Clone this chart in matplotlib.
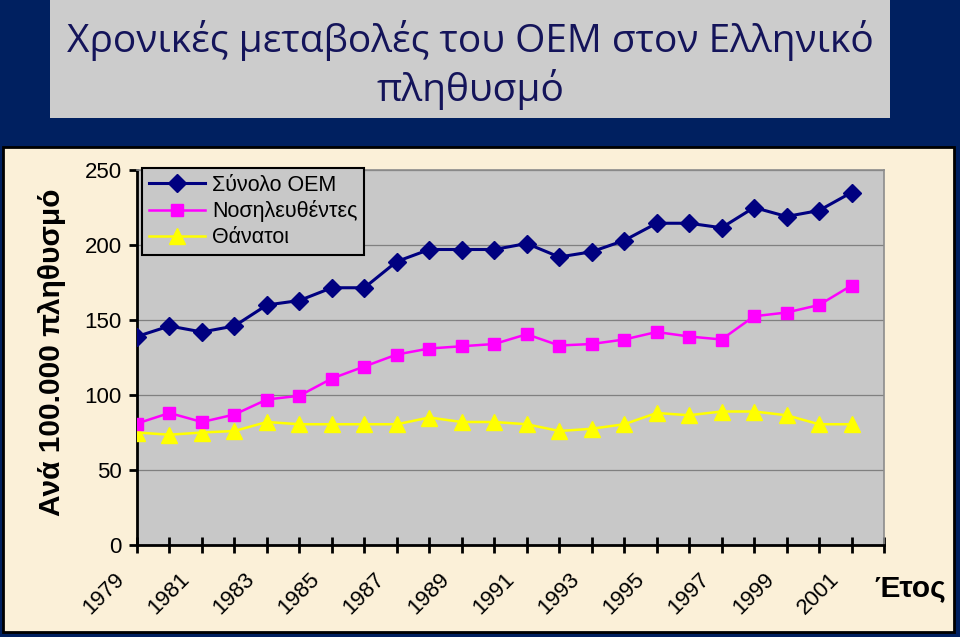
import matplotlib
matplotlib.use("Agg")
import matplotlib.pyplot as plt
from matplotlib.patches import Rectangle
from matplotlib.transforms import ScaledTranslation

# data
years = list(range(1979, 2002))
total_oem = [139, 146, 142, 146, 160, 163, 171.5, 171.5, 189, 197, 197, 197,
             201, 192, 195.5, 203, 214.5, 214.5, 211.5, 225, 219, 223, 235]
hospitalised = [81, 88, 82, 87, 97, 99.5, 111, 119, 127, 131, 132.5, 134,
                140.5, 133, 134, 137, 142, 139, 137, 152.5, 155, 160, 173]
deaths = [75, 73.5, 75, 76, 82, 80.5, 80.5, 80.5, 80.5, 85, 82, 82,
          80.5, 76, 77.5, 80.5, 88, 86.5, 89, 89, 86.5, 80.5, 80.5]

series_names = ["Σύνολο ΟΕΜ", "Νοσηλευθέντες", "Θάνατοι"]
title_text = "Χρονικές μεταβολές του ΟΕΜ στον Ελληνικό\nπληθυσμό"
y_label = "Ανά 100.000 πληθυσμό"
x_label = "Έτος"

W, H = 960, 637
navy_bg = "#002060"
parchment = "#fbf0d8"
plot_grey = "#c8c8c8"

plt.rcParams["font.family"] = ["Liberation Sans", "DejaVu Sans"]

fig = plt.figure(figsize=(W / 100, H / 100), dpi=100, facecolor=navy_bg)

# title box and parchment panel (figure pixel layout), behind the axes
fig.patches.append(Rectangle((50 / W, 1 - 118 / H), 840 / W, 118 / H,
                             transform=fig.transFigure, facecolor="#cccccc",
                             edgecolor="none", zorder=-2))
fig.patches.append(Rectangle((3 / W, 1 - 632 / H), 951 / W, 485 / H,
                             transform=fig.transFigure, facecolor=parchment,
                             edgecolor="black", linewidth=2, zorder=-2))

fig.text(470 / W, 1 - 65 / H, title_text, ha="center", va="center",
         fontsize=28, color="#14145a", family=["Open Sans", "DejaVu Sans"],
         linespacing=1.25)

ax = fig.add_axes([137 / W, 1 - 545 / H, 747 / W, 375 / H], facecolor=plot_grey)

x = list(range(len(years)))
ax.plot(x, total_oem, color="#000080", lw=2.2, marker="D", ms=9,
        label=series_names[0], zorder=5)
ax.plot(x, hospitalised, color="#ff00ff", lw=1.8, marker="s", ms=9,
        label=series_names[1], zorder=4)
ax.plot(x, deaths, color="#ffff00", lw=1.8, marker="^", ms=11,
        label=series_names[2], zorder=3)

ax.set_xlim(0, len(years))
ax.set_ylim(0, 250)
ax.set_yticks([0, 50, 100, 150, 200, 250])
ax.set_xticks(range(len(years) + 1))

ax.grid(axis="y", color="#808080", lw=0.9)
ax.set_axisbelow(True)
ax.tick_params(axis="both", labelsize=16, colors="black", width=2)
ax.tick_params(axis="x", direction="inout", length=11, pad=2)
ax.tick_params(axis="y", direction="out", length=6, pad=5)

ax.set_xticklabels([str(y) if (y - years[0]) % 2 == 0 else "" for y in years] + [""],
                   rotation=45, ha="right", va="top", rotation_mode="anchor")
for lbl in ax.get_xticklabels():
    lbl.set_transform(lbl.get_transform() + ScaledTranslation(-0.23, -0.13, fig.dpi_scale_trans))

for side in ("left", "bottom"):
    ax.spines[side].set_color("black")
    ax.spines[side].set_linewidth(2)
for side in ("top", "right"):
    ax.spines[side].set_color("#8c8c8c")
    ax.spines[side].set_linewidth(1.2)

leg = ax.legend(loc="upper left", bbox_to_anchor=(0.007, 1.005), borderaxespad=0,
                fontsize=15.5, frameon=True, fancybox=False, framealpha=1,
                facecolor=plot_grey, edgecolor="black", handlelength=2.6,
                handletextpad=0.35, labelspacing=0.22, borderpad=0.3)
leg.get_frame().set_linewidth(1.5)

fig.text(52 / W, 1 - 352 / H, y_label, rotation=90, ha="center", va="center",
         fontsize=21.5, fontweight="bold", color="black")
fig.text(910 / W, 1 - 588 / H, x_label, ha="center", va="center",
         fontsize=21.5, fontweight="bold", color="black")

fig.savefig("out.png", dpi=100, facecolor=navy_bg)
